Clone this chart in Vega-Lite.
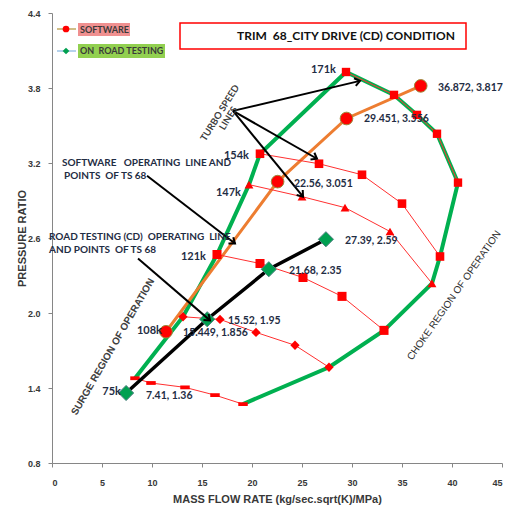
{
  "$schema": "https://vega.github.io/schema/vega-lite/v6.json",
  "width": 450,
  "height": 450,
  "autosize": {"type": "none"},
  "padding": {"left": 52, "top": 13, "right": 18, "bottom": 47},
  "background": "white",
  "config": {
    "view": {"stroke": null},
    "axis": {
      "grid": false,
      "domainColor": "#868686",
      "tickColor": "#868686",
      "tickSize": 4,
      "labelFont": "Liberation Sans",
      "labelFontWeight": "bold",
      "labelFontSize": 9,
      "labelColor": "#383838",
      "titleFont": "Liberation Sans",
      "titleFontWeight": "bold",
      "titleFontSize": 11,
      "titleColor": "#383838"
    },
    "text": {"font": "Lato", "fontWeight": "bold"}
  },
  "datasets": {
    "speed": [
      {"line": "75k", "x": 8.3, "y": 1.478}, {"line": "75k", "x": 9.9, "y": 1.44}, {"line": "75k", "x": 13.3, "y": 1.405}, {"line": "75k", "x": 16.3, "y": 1.343}, {"line": "75k", "x": 19.1, "y": 1.271},
      {"line": "108k", "x": 13.1, "y": 1.97}, {"line": "108k", "x": 16.8, "y": 1.949}, {"line": "108k", "x": 20.4, "y": 1.845}, {"line": "108k", "x": 24.3, "y": 1.742}, {"line": "108k", "x": 27.7, "y": 1.566},
      {"line": "121k", "x": 16.5, "y": 2.468}, {"line": "121k", "x": 20.8, "y": 2.396}, {"line": "121k", "x": 25.1, "y": 2.284}, {"line": "121k", "x": 29.0, "y": 2.133}, {"line": "121k", "x": 33.2, "y": 1.861},
      {"line": "147k", "x": 19.7, "y": 3.027}, {"line": "147k", "x": 25.0, "y": 2.931}, {"line": "147k", "x": 29.3, "y": 2.843}, {"line": "147k", "x": 33.8, "y": 2.652}, {"line": "147k", "x": 38.0, "y": 2.237},
      {"line": "154k", "x": 20.8, "y": 3.274}, {"line": "154k", "x": 26.7, "y": 3.194}, {"line": "154k", "x": 31.0, "y": 3.106}, {"line": "154k", "x": 35.0, "y": 2.875}, {"line": "154k", "x": 38.8, "y": 2.452},
      {"line": "171k", "x": 29.4, "y": 3.928}, {"line": "171k", "x": 34.2, "y": 3.745}, {"line": "171k", "x": 36.5, "y": 3.585}, {"line": "171k", "x": 38.5, "y": 3.434}, {"line": "171k", "x": 40.6, "y": 3.043}
    ],
    "envelope": [
      {"i": 1, "x": 8.3, "y": 1.478}, {"i": 2, "x": 13.1, "y": 1.97}, {"i": 3, "x": 16.5, "y": 2.468}, {"i": 4, "x": 19.7, "y": 3.027}, {"i": 5, "x": 20.8, "y": 3.274},
      {"i": 6, "x": 29.4, "y": 3.928}, {"i": 7, "x": 34.2, "y": 3.745}, {"i": 8, "x": 36.5, "y": 3.585}, {"i": 9, "x": 38.5, "y": 3.434}, {"i": 10, "x": 40.6, "y": 3.043},
      {"i": 11, "x": 38.8, "y": 2.452}, {"i": 12, "x": 38.0, "y": 2.237}, {"i": 13, "x": 33.2, "y": 1.861}, {"i": 14, "x": 27.7, "y": 1.566}, {"i": 15, "x": 19.1, "y": 1.271}
    ],
    "software": [
      {"x": 11.4, "y": 1.85}, {"x": 22.56, "y": 3.051}, {"x": 29.451, "y": 3.556}, {"x": 36.872, "y": 3.817}
    ],
    "road": [
      {"x": 7.41, "y": 1.36}, {"x": 15.52, "y": 1.95}, {"x": 21.68, "y": 2.35}, {"x": 27.39, "y": 2.59}
    ],
    "arrows": [
      {"x": 18.1, "y": 3.617, "x2": 30.8, "y2": 3.857},
      {"x": 18.1, "y": 3.617, "x2": 26.5, "y2": 3.234},
      {"x": 18.1, "y": 3.617, "x2": 25.1, "y2": 2.931},
      {"x": 9.5, "y": 3.098, "x2": 18.3, "y2": 2.556},
      {"x": 8.6, "y": 2.436, "x2": 15.8, "y2": 1.941}
    ],
    "vlabels": [
      {"x": 38.6, "y": 3.8, "t": "36.872, 3.817"},
      {"x": 31.2, "y": 3.553, "t": "29.451, 3.556"},
      {"x": 24.2, "y": 3.035, "t": "22.56, 3.051"},
      {"x": 29.3, "y": 2.58, "t": "27.39, 2.59"},
      {"x": 23.7, "y": 2.34, "t": "21.68, 2.35"},
      {"x": 17.6, "y": 1.94, "t": "15.52, 1.95"},
      {"x": 13.1, "y": 1.837, "t": "15.449, 1.856"},
      {"x": 9.4, "y": 1.335, "t": "7.41, 1.36"}
    ],
    "klabels": [
      {"x": 28.4, "y": 3.944, "t": "171k"},
      {"x": 19.7, "y": 3.258, "t": "154k"},
      {"x": 18.9, "y": 2.963, "t": "147k"},
      {"x": 15.4, "y": 2.452, "t": "121k"},
      {"x": 11.0, "y": 1.853, "t": "108k"},
      {"x": 6.9, "y": 1.367, "t": "75k"}
    ],
    "notes": [
      {"x": 1.0, "y": 3.202, "t": "SOFTWARE\u00a0\u00a0\u00a0OPERATING\u00a0\u00a0LINE AND"},
      {"x": 1.2, "y": 3.098, "t": "POINTS\u00a0\u00a0OF TS 68"},
      {"x": -0.3, "y": 2.612, "t": "ROAD TESTING (CD)\u00a0\u00a0OPERATING\u00a0\u00a0LINE"},
      {"x": -0.3, "y": 2.508, "t": "AND POINTS\u00a0\u00a0OF TS 68"}
    ]
  },
  "encoding": {
    "x": {
      "field": "x", "type": "quantitative",
      "scale": {"domain": [0, 45], "nice": false, "zero": false},
      "axis": {
        "values": [0, 5, 10, 15, 20, 25, 30, 35, 40, 45],
        "labelPadding": 11,
        "title": "MASS FLOW RATE (kg/sec.sqrt(K)/MPa)",
        "titleY": 36, "titleBaseline": "middle"
      }
    },
    "y": {
      "field": "y", "type": "quantitative",
      "scale": {"domain": [0.8, 4.4], "nice": false, "zero": false},
      "axis": {
        "values": [0.8, 1.4, 2.0, 2.6, 3.2, 3.8, 4.4],
        "format": ".1f",
        "labelPadding": 8,
        "title": "PRESSURE RATIO",
        "titleX": -30, "titleY": 225, "titleAngle": 270,
        "titleAlign": "center", "titleBaseline": "middle"
      }
    }
  },
  "layer": [
    {
      "data": {"values": [{"x": 2.6, "x2": 7.8, "y": 4.32, "y2": 4.216}]},
      "mark": {"type": "rect", "fill": "#F09090"},
      "encoding": {"x2": {"field": "x2"}, "y2": {"field": "y2"}}
    },
    {
      "data": {"values": [{"x": 2.6, "x2": 11.3, "y": 4.152, "y2": 4.04}]},
      "mark": {"type": "rect", "fill": "#92D050"},
      "encoding": {"x2": {"field": "x2"}, "y2": {"field": "y2"}}
    },
    {
      "data": {"values": [{"x": 0.5, "x2": 2.4, "y": 4.272}]},
      "mark": {"type": "rule", "stroke": "#C0A860", "strokeWidth": 1.5},
      "encoding": {"x2": {"field": "x2"}}
    },
    {
      "data": {"values": [{"x": 0.5, "x2": 2.4, "y": 4.096}]},
      "mark": {"type": "rule", "stroke": "#9DC3E6", "strokeWidth": 1.5},
      "encoding": {"x2": {"field": "x2"}}
    },
    {
      "data": {"values": [{"x": 1.4, "y": 4.272}]},
      "mark": {"type": "point", "shape": "circle", "filled": true, "fill": "#FF0000", "size": 45, "opacity": 1}
    },
    {
      "data": {"values": [{"x": 1.4, "y": 4.096}]},
      "mark": {"type": "point", "shape": "diamond", "filled": true, "fill": "#00A050", "size": 45, "opacity": 1}
    },
    {
      "data": {"values": [{"x": 2.8, "y": 4.268, "t": "SOFTWARE"}, {"x": 2.8, "y": 4.096, "t": "ON\u00a0\u00a0ROAD TESTING"}]},
      "mark": {"type": "text", "align": "left", "baseline": "middle", "fontSize": 9, "fill": "#3A3A3A"},
      "encoding": {"text": {"field": "t"}}
    },
    {
      "data": {"values": [{"x": 12.8, "x2": 41.4, "y": 4.32, "y2": 4.112}]},
      "mark": {"type": "rect", "fill": "white", "stroke": "#FF0000", "strokeWidth": 1.5},
      "encoding": {"x2": {"field": "x2"}, "y2": {"field": "y2"}}
    },
    {
      "data": {"values": [{"x": 29.4, "y": 4.216, "t": "TRIM\u00a0\u00a068_CITY DRIVE (CD) CONDITION"}]},
      "mark": {"type": "text", "align": "center", "baseline": "middle", "fontSize": 12, "fill": "#111111"},
      "encoding": {"text": {"field": "t"}}
    },
    {
      "data": {"name": "envelope"},
      "mark": {"type": "line", "stroke": "#00B050", "strokeWidth": 4},
      "encoding": {"order": {"field": "i", "type": "quantitative"}}
    },
    {
      "data": {"name": "software"},
      "mark": {"type": "line", "stroke": "#ED7D31", "strokeWidth": 3}
    },
    {
      "data": {"name": "speed"},
      "mark": {"type": "line", "stroke": "#FF3030", "strokeWidth": 1},
      "encoding": {"detail": {"field": "line"}}
    },
    {
      "data": {"name": "speed"},
      "mark": {"type": "point", "filled": true, "fill": "#FF0000", "opacity": 1},
      "encoding": {
        "shape": {
          "field": "line", "type": "nominal", "legend": null,
          "scale": {
            "domain": ["75k", "108k", "121k", "147k", "154k", "171k"],
            "range": ["M-1,-0.4L1,-0.4L1,0.4L-1,0.4Z", "diamond", "square", "triangle-up", "square", "square"]
          }
        },
        "size": {
          "field": "line", "type": "nominal", "legend": null,
          "scale": {
            "domain": ["75k", "108k", "121k", "147k", "154k", "171k"],
            "range": [90, 70, 60, 70, 60, 150]
          }
        }
      }
    },
    {
      "data": {"name": "software"},
      "mark": {"type": "point", "shape": "circle", "filled": true, "fill": "#FF0000", "stroke": "#9C8A3C", "strokeWidth": 1, "size": 160, "opacity": 1}
    },
    {
      "data": {"name": "road"},
      "mark": {"type": "line", "stroke": "#000000", "strokeWidth": 3.5}
    },
    {
      "data": {"name": "road"},
      "mark": {"type": "point", "shape": "diamond", "filled": true, "fill": "#00A050", "stroke": "#4F8080", "strokeWidth": 1, "size": 230, "opacity": 1}
    },
    {
      "data": {"name": "arrows"},
      "mark": {"type": "rule", "stroke": "#000000", "strokeWidth": 2},
      "encoding": {"x2": {"field": "x2"}, "y2": {"field": "y2"}}
    },
    {
      "data": {"name": "arrows"},
      "transform": [
        {"calculate": "(atan2(-(datum.y2 - datum.y) * 125.3, (datum.x2 - datum.x) * 10) * 180 / PI + 360) % 360", "as": "ang"}
      ],
      "mark": {"type": "point", "shape": "M-1,-0.75L0,0L-1,0.75", "filled": false, "stroke": "#000000", "strokeWidth": 2, "size": 110, "opacity": 1},
      "encoding": {
        "x": {"field": "x2", "type": "quantitative"},
        "y": {"field": "y2", "type": "quantitative"},
        "angle": {"field": "ang", "type": "quantitative", "scale": null}
      }
    },
    {
      "data": {"name": "vlabels"},
      "mark": {"type": "text", "align": "left", "baseline": "middle", "fontSize": 10.5, "fill": "#1F2D44"},
      "encoding": {"text": {"field": "t"}}
    },
    {
      "data": {"name": "klabels"},
      "mark": {"type": "text", "align": "right", "baseline": "middle", "fontSize": 11, "fill": "#1F2D44"},
      "encoding": {"text": {"field": "t"}}
    },
    {
      "data": {"name": "notes"},
      "mark": {"type": "text", "align": "left", "baseline": "middle", "fontSize": 10, "fill": "#1F2D44"},
      "encoding": {"text": {"field": "t"}}
    },
    {
      "data": {"values": [{"x": 16.8, "y": 3.6, "t": "TURBO SPEED\nLINES"}]},
      "mark": {"type": "text", "align": "center", "baseline": "middle", "fontSize": 9.5, "angle": 302, "lineBreak": "\n", "lineHeight": 10, "fill": "#404040"},
      "encoding": {"text": {"field": "t"}}
    },
    {
      "data": {"values": [{"x": 6.1, "y": 1.73, "t": "SURGE REGION OF OPERATION"}]},
      "mark": {"type": "text", "align": "center", "baseline": "middle", "fontSize": 10, "angle": 300, "fill": "#404040", "font": "Liberation Sans"},
      "encoding": {"text": {"field": "t"}}
    },
    {
      "data": {"values": [{"x": 40.2, "y": 2.14, "t": "CHOKE REGION OF OPERATION"}]},
      "mark": {"type": "text", "align": "center", "baseline": "middle", "fontSize": 10, "angle": 305, "fill": "#303030", "font": "Liberation Sans", "fontWeight": "normal"},
      "encoding": {"text": {"field": "t"}}
    }
  ]
}
